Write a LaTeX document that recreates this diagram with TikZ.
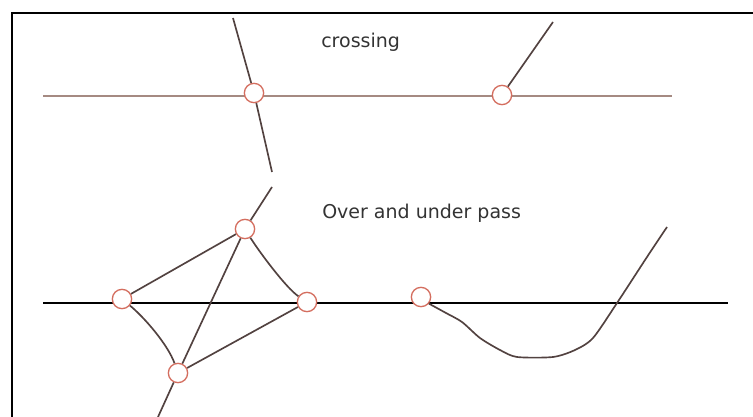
\documentclass[tikz,border=0pt]{standalone}
\usepackage{fontspec}
\setmainfont{DejaVu Sans}
\begin{document}
\begin{tikzpicture}[x=0.75pt,y=-0.75pt,
  pt/.style={circle,fill=white,line width=1pt,minimum size=14.5pt,inner sep=0pt},
  edge/.style={line width=1.25pt},
  lbl/.style={font=\fontsize{14.25pt}{17pt}\selectfont,text=black!80,inner sep=0pt}]
\definecolor{topline}{RGB}{165,138,130}
\definecolor{edgec}{RGB}{82,66,64}
\definecolor{ringc}{RGB}{212,110,95}
\tikzset{pt/.append style={draw=ringc},edge/.append style={draw=edgec}}
\useasboundingbox (0,0) rectangle (753,417);
% frame
\draw[line width=1.6pt] (12,417) -- (12,13) -- (753,13);
% labels
\node[lbl,anchor=base west] (t1) at (321,48) {crossing};
\node[lbl,anchor=base west] (t2) at (322,219) {Over and under pass};
% top diagram
\coordinate (h1a) at (43,96);
\coordinate (h1b) at (672,96);
\draw[draw=topline,line width=1.7pt] (h1a) -- (h1b);
\node[pt] (A) at (254,93) {};
\node[pt] (B) at (502,95) {};
\coordinate (Atop) at (233,18);
\coordinate (Abot) at (272,172);
\coordinate (Bend) at (553,22);
\draw[edge] (Atop) -- (A);
\draw[edge] (A) -- (Abot);
\draw[edge] (B) -- (Bend);
% bottom diagram
\coordinate (h2a) at (43,303);
\coordinate (h2b) at (728,303);
\draw[line width=1.2pt] (h2a) -- (h2b);
\node[pt] (L) at (122,299) {};
\node[pt] (T) at (245,229) {};
\node[pt] (R) at (307,302) {};
\node[pt] (Bt) at (178,373) {};
\node[pt] (M) at (421,297) {};
\coordinate (Ttop) at (272,187);
\coordinate (Bbot) at (158,417);
\coordinate (Wend) at (667,227);
\draw[edge] (L) -- (T);
\draw[edge] (Bt) -- (R);
\draw[edge] (Bt) -- (T);
\draw[edge] (T) -- (Ttop);
\draw[edge] (Bt) -- (Bbot);
\draw[edge] (T) .. controls (258,250) and (286,288) .. (R);
\draw[edge] (L) .. controls (145,318) and (168,345) .. (Bt);
\draw[edge] plot[smooth,tension=0.45] coordinates {(M.-40) (446,313) (462,322) (480,338) (500,350) (517,357) (553,357) (575,350) (593,338) (617,303) (647,257) (Wend)};
\end{tikzpicture}
\end{document}
